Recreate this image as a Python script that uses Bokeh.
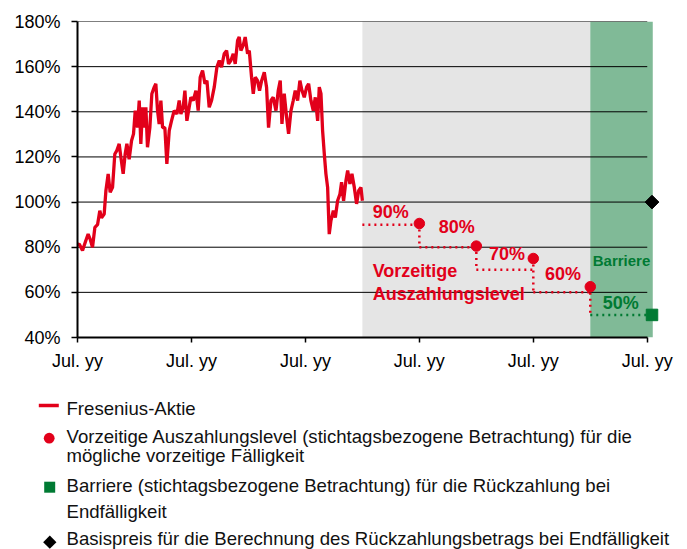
import numpy as np
from bokeh.plotting import figure
from bokeh.models import Range1d, FixedTicker, PrintfTickFormatter
from bokeh.embed import file_html
from bokeh.resources import INLINE
from bokeh.core.properties import value

# ---------------- data ----------------
# stock history (x in months from first "Jul. yy", y in % of start level)
stock_month = [0, 0.18, 0.53, 0.88, 1.12, 1.33, 1.58, 1.83, 2.11, 2.35,
               2.53, 2.81, 2.99, 3.23, 3.44, 3.69, 3.93, 4.14, 4.39, 4.57,
               4.81, 5.02, 5.20, 5.44, 5.69, 5.90, 6.08, 6.32, 6.50, 6.67,
               6.85, 7.02, 7.20, 7.37, 7.62, 7.83, 8.08, 8.25, 8.43, 8.60,
               8.78, 8.96, 9.20, 9.41, 9.66, 9.90, 10.18, 10.47, 10.71, 10.89,
               11.13, 11.31, 11.52, 11.76, 11.94, 12.19, 12.47, 12.71, 12.92, 13.17,
               13.42, 13.63, 13.87, 14.12, 14.40, 14.68, 14.93, 15.17, 15.45, 15.70,
               15.91, 16.15, 16.40, 16.61, 16.86, 17.03, 17.21, 17.45, 17.66, 17.91,
               18.09, 18.33, 18.51, 18.72, 18.96, 19.17, 19.39, 19.67, 19.91, 20.12,
               20.37, 20.61, 20.90, 21.14, 21.35, 21.53, 21.77, 22.02, 22.23, 22.48,
               22.72, 22.93, 23.18, 23.42, 23.64, 23.88, 24.13, 24.34, 24.58, 24.83,
               25.04, 25.29, 25.46, 25.64, 25.81, 25.99, 26.16, 26.34, 26.51, 26.69,
               26.94, 27.15, 27.39, 27.64, 27.81, 28.02, 28.27, 28.45, 28.69, 28.90,
               29.15, 29.39, 29.61, 29.85, 30.0]
stock_value = [81, 81.4, 78.5, 83, 85.8, 83.6, 80, 88.8, 90, 96.2,
               93, 94.7, 105, 112.5, 104.3, 106.5, 121.3, 122.8, 125.8, 119.8,
               112.5, 121.3, 125.8, 119, 127.2, 130.2, 140.5, 133, 145, 125.8,
               142, 133, 142, 124.3, 133, 148, 150.9, 152.4, 140.5, 134.6,
               145, 133, 133, 116.9, 131.7, 136, 140.5, 139, 145, 139,
               142, 149.4, 136, 142, 146.4, 145, 149.4, 140.5, 155.3, 158.3,
               152.4, 153.8, 142, 145, 150.9, 159.8, 162.7, 159.8, 165.7, 167.1,
               161.2, 162.7, 165.7, 161.2, 171.6, 173.1, 167.1, 169.4, 173.1, 165.7,
               167.1, 155.3, 148, 155.3, 153.8, 149.4, 153.8, 157.5, 150.9, 133,
               145, 146.4, 140.5, 149.4, 153.8, 134.6, 148, 137.6, 130.2, 140.5,
               145, 149.4, 145, 153.8, 149.4, 146.4, 150.9, 152.4, 145, 140.5,
               146.4, 136, 150.9, 148, 131.7, 121.3, 112.5, 106.5, 85.8, 91.8,
               96.2, 93.2, 100.6, 103.6, 108.8, 100.6, 109.5, 114, 108, 112.5,
               106.5, 99.2, 105, 106.5, 100.6]

obs_start = 30                      # start of observation period (months)
obs_dates = [36, 42, 48, 54]        # early redemption dates
obs_levels = [90, 80, 70, 60]       # early redemption levels (%)
obs_dot_y = [90.5, 80.5, 75, 62.5]  # dot positions as drawn
level_labels = ["90%", "80%", "70%", "60%"]
final_x = 60.5                      # final valuation marker
barrier = 50
barrier_label = "50%"
strike = 100
y_ticks = [40, 60, 80, 100, 120, 140, 160, 180]
x_ticks = [0, 12, 24, 36, 48, 60]
x_tick_labels = ["Jul. yy", "Jul. yy", "Jul. yy", "Jul. yy", "Jul. yy", "Jul. yy"]

legend_texts = [
    ["Fresenius-Aktie"],
    ["Vorzeitige Auszahlungslevel (stichtagsbezogene Betrachtung) für die",
     "mögliche vorzeitige Fälligkeit"],
    ["Barriere (stichtagsbezogene Betrachtung) für die Rückzahlung bei",
     "Endfälligkeit"],
    ["Basispreis für die Berechnung des Rückzahlungsbetrags bei Endfälligkeit"],
]

# ---------------- style ----------------
RED = "#E2001A"
GRAY = "#E5E5E5"
GREEN_BG = "#80BA97"
GREEN = "#007A33"
FONT = "Liberation Sans"

W, H = 687, 549
LEFT, TOP, FRAME_W, FRAME_H = 77, 21, 584, 316

p = figure(width=W, height=H, x_range=Range1d(0, 61.5), y_range=Range1d(40, 180),
           output_backend="svg", toolbar_location=None,
           min_border_left=LEFT, min_border_right=W - LEFT - FRAME_W,
           min_border_top=TOP, min_border_bottom=H - TOP - FRAME_H)
p.outline_line_color = None
p.grid.visible = False
p.background_fill_color = "white"
p.border_fill_color = "white"

# pixel-coordinate ranges for the legend below the chart
p.extra_x_ranges["px"] = Range1d(LEFT, LEFT + FRAME_W)
p.extra_y_ranges["py"] = Range1d(TOP + FRAME_H, TOP)

# background zones
p.quad(left=[obs_start], right=[obs_dates[-1]], bottom=[40], top=[180.4],
       fill_color=GRAY, line_color=None)
p.quad(left=[obs_dates[-1]], right=[final_x + 0.08], bottom=[40], top=[180],
       fill_color=GREEN_BG, line_color=None)

# grid lines
gy = y_ticks[1:]
p.segment(x0=[0] * len(gy), y0=gy, x1=[x_ticks[-1]] * len(gy), y1=gy,
          line_color="black", line_width=1)

# stock line
p.line(stock_month, stock_value, line_color=RED, line_width=3.3)

# step path of early redemption levels
h_start = [obs_start] + obs_dates[:-1]
p.segment(x0=h_start, y0=obs_levels, x1=obs_dates, y1=obs_levels,
          line_color=RED, line_width=2.5, line_dash="2 4")
next_levels = obs_levels[1:] + [barrier]
p.segment(x0=obs_dates, y0=obs_dot_y, x1=obs_dates, y1=next_levels,
          line_color=RED, line_width=2.5, line_dash="2 4")
p.segment(x0=[obs_dates[-1]], y0=[barrier], x1=[final_x], y1=[barrier],
          line_color=GREEN, line_width=2.5, line_dash="2 4")

p.scatter(obs_dates, obs_dot_y, marker="circle", size=10.5, color=RED)
p.scatter([final_x], [barrier], marker="square", size=11.5, color=GREEN, level="overlay")
p.scatter([final_x], [strike], marker="square", angle=np.pi / 4, size=9.7, color="black",
          level="overlay")

# labels (baseline positions)
lab_x = [31.08, 38.03, 43.33, 49.23]
lab_y = [95.4, 88.8, 77.2, 68.0]
p.text(x=lab_x, y=lab_y, text=level_labels, text_font=value(FONT), text_font_style="bold",
       text_font_size="18px", text_color=RED, text_align="left", text_baseline="alphabetic")
p.text(x=[31.08, 31.08], y=[69.5, 59.2], text=["Vorzeitige", "Auszahlungslevel"],
       text_font=value(FONT), text_font_style="bold", text_font_size="18px",
       text_color=RED, text_align="left", text_baseline="alphabetic")
p.text(x=[55.31], y=[55.5], text=[barrier_label], text_font=value(FONT), text_font_style="bold",
       text_font_size="18px", text_color=GREEN, text_align="left", text_baseline="alphabetic")
p.text(x=[54.26], y=[74.2], text=["Barriere"], text_font=value(FONT), text_font_style="bold",
       text_font_size="15px", text_color=GREEN, text_align="left", text_baseline="alphabetic")

# axes
p.yaxis.ticker = FixedTicker(ticks=y_ticks)
p.yaxis.formatter = PrintfTickFormatter(format="%d%%")
p.xaxis.ticker = FixedTicker(ticks=x_ticks)
p.xaxis.major_label_overrides = {t: l for t, l in zip(x_ticks, x_tick_labels)}
p.xaxis.bounds = (x_ticks[0], x_ticks[-1])
for ax in (p.xaxis, p.yaxis):
    ax.axis_line_color = "black"
    ax.axis_line_width = 2
    ax.major_tick_line_color = "black"
    ax.major_tick_line_width = 1.5
    ax.major_tick_in = 0
    ax.minor_tick_line_color = None
    ax.major_label_text_font = FONT
    ax.major_label_text_font_size = "18px"
    ax.major_label_text_color = "black"
p.yaxis.major_tick_out = 6
p.yaxis.major_label_standoff = 11
p.xaxis.major_tick_out = 5
p.xaxis.major_label_standoff = 8

# ---------------- legend (page pixel coordinates, not clipped) ----------------
kw = dict(x_range_name="px", y_range_name="py", level="overlay")
text_x = 66
baselines = [[407.6], [436.0, 455.0], [485.0, 511.0], [537.5]]

# swatches drawn as short thick segments
p.segment(x0=[38.3], y0=[405], x1=[58.3], y1=[405], line_color=RED, line_width=3.5, **kw)
dot_c, dot_d = (48.7, 437.7), 10.7
p.segment(x0=[dot_c[0] - 0.05], y0=[dot_c[1]], x1=[dot_c[0] + 0.05], y1=[dot_c[1]],
          line_color=RED, line_width=dot_d, line_cap="round", **kw)
sq_c, sq_s = (49.2, 486.7), 11
p.segment(x0=[sq_c[0] - sq_s / 2], y0=[sq_c[1]], x1=[sq_c[0] + sq_s / 2], y1=[sq_c[1]],
          line_color=GREEN, line_width=sq_s, line_cap="butt", **kw)
dm_c, dm_s = (49.3, 541.7), 9.4
h = dm_s / (2 * np.sqrt(2))
p.segment(x0=[dm_c[0] - h], y0=[dm_c[1] - h], x1=[dm_c[0] + h], y1=[dm_c[1] + h],
          line_color="black", line_width=dm_s, line_cap="butt", **kw)

tx, ty, tt = [], [], []
for lines, bls in zip(legend_texts, baselines):
    for t, b in zip(lines, bls):
        tx.append(text_x)
        ty.append(b)
        tt.append(t)
p.text(x=tx, y=ty, text=tt, text_font=value(FONT), text_font_size="18.6px",
       text_color="#111111", text_align="left", text_baseline="alphabetic", **kw)

open("out.html", "w").write(file_html(p, INLINE))
